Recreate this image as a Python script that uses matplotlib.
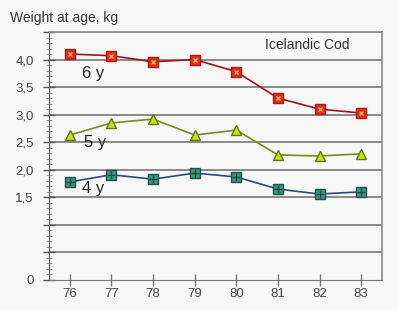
import matplotlib.pyplot as plt
from matplotlib.ticker import MultipleLocator, FixedLocator, FixedFormatter

plt.rcParams['font.family'] = ['Liberation Sans', 'DejaVu Sans']

# Datos
anios = [76, 77, 78, 79, 80, 81, 82, 83]
peso_6y = [4.10, 4.07, 3.96, 4.00, 3.78, 3.30, 3.10, 3.03]
peso_5y = [2.63, 2.85, 2.92, 2.63, 2.72, 2.27, 2.25, 2.29]
peso_4y = [1.78, 1.91, 1.83, 1.94, 1.87, 1.65, 1.56, 1.60]

y_ticks = [0, 0.5, 1.0, 1.5, 2.0, 2.5, 3.0, 3.5, 4.0, 4.5]
y_labels = ['0', '', '', '1,5', '2,0', '2,5', '3,0', '3,5', '4,0', '']

fondo = '#f7f7f7'
fig = plt.figure(figsize=(3.98, 3.11), dpi=100, facecolor=fondo)
ax = fig.add_axes([49 / 398, 1 - 280 / 311, 333 / 398, 248 / 311])
ax.set_facecolor(fondo)

# Rejilla horizontal
for y in y_ticks[1:]:
    ax.axhline(y, color='#8a8a8a', linewidth=1.4, zorder=1)

# Series
ax.plot(anios, peso_6y, color='#a01020', linewidth=1.2, marker='s', markersize=7,
        markerfacecolor='#e0301a', markeredgecolor='#b01818', zorder=3)
ax.plot(anios, peso_6y, linestyle='none', marker='x', markersize=3.5,
        markeredgecolor='#ffb060', markeredgewidth=1.0, zorder=4)

ax.plot(anios, peso_5y, color='#6f8f20', linewidth=1.2, marker='^', markersize=7,
        markerfacecolor='#c8e010', markeredgecolor='#5a7a10', zorder=3)

ax.plot(anios, peso_4y, color='#2a4a80', linewidth=1.2, marker='s', markersize=7,
        markerfacecolor='#3a9a6a', markeredgecolor='#1f4f5f', zorder=3)
ax.plot(anios, peso_4y, linestyle='none', marker='+', markersize=6,
        markeredgecolor='#1f3f4f', markeredgewidth=0.9, zorder=4)

# Etiquetas de las series
ax.text(76.3, 3.74, '6 y', fontsize=12, color='#222222', va='center')
ax.text(76.35, 2.5, '5 y', fontsize=12, color='#222222', va='center')
ax.text(76.3, 1.66, '4 y', fontsize=12, color='#222222', va='center')
ax.text(82.73, 4.26, 'Icelandic Cod', fontsize=10, color='#333333',
        ha='right', va='center')

fig.text(10 / 398, 1 - 18 / 311, 'Weight at age, kg', fontsize=10,
         color='#333333', va='center')

# Ejes
ax.set_xlim(75.5, 83.5)
ax.set_ylim(0, 4.5)
ax.set_xticks(anios)
ax.yaxis.set_major_locator(FixedLocator(y_ticks))
ax.yaxis.set_major_formatter(FixedFormatter(y_labels))
ax.yaxis.set_minor_locator(MultipleLocator(0.1))
ax.tick_params(axis='y', which='major', direction='inout', length=8, width=1,
               color='#555555', labelsize=9.5, labelcolor='#444444', pad=7)
ax.tick_params(axis='y', which='minor', direction='inout', length=4, width=0.6,
               color='#888888')
ax.tick_params(axis='x', direction='inout', length=8, width=1, color='#777777',
               labelsize=9.5, labelcolor='#444444', pad=2)

for lado in ['top', 'right']:
    ax.spines[lado].set_color('#8a8a8a')
    ax.spines[lado].set_linewidth(1.2)
ax.spines['left'].set_color('#555555')
ax.spines['bottom'].set_color('#777777')

fig.savefig('out.png', dpi=100, facecolor=fondo)
